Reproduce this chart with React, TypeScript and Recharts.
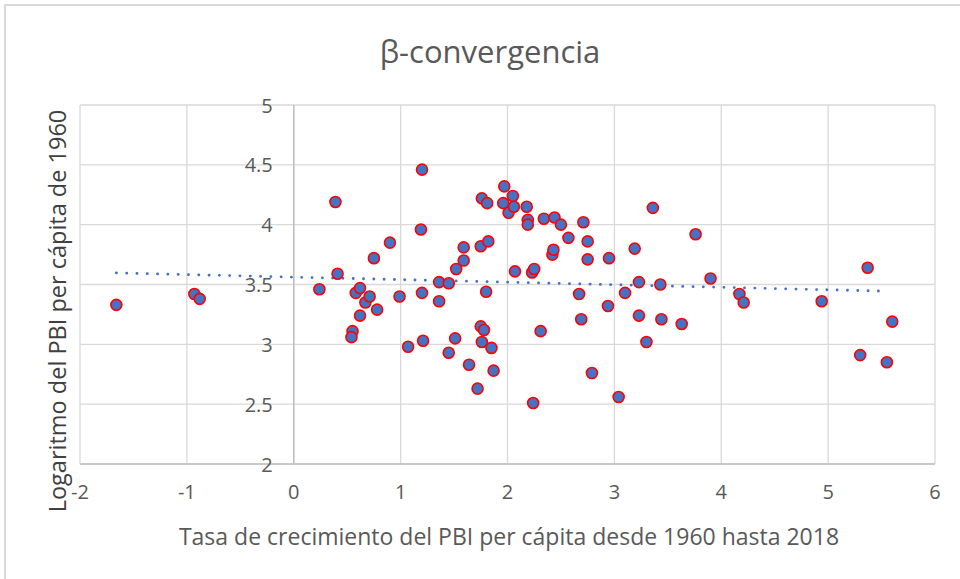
import React from 'react';
import { ScatterChart, Scatter, XAxis, YAxis, CartesianGrid, ReferenceLine } from 'recharts';

// tasa de crecimiento (eje x) y logaritmo del PBI per cápita 1960 (eje y)
const growthRate = [
  -1.66, -0.93, -0.88, 0.24, 0.39, 0.41, 0.55, 0.54, 0.58, 0.62, 0.62, 0.67, 0.71, 0.75, 0.78,
  0.9, 0.99, 1.07, 1.19, 1.2, 1.2, 1.21, 1.36, 1.36, 1.45, 1.45, 1.51, 1.52, 1.59, 1.59,
  1.64, 1.72, 1.75, 1.78, 1.76, 1.75, 1.76, 1.81, 1.8, 1.82, 1.85, 1.87, 1.97, 1.96, 2.05,
  2.01, 2.06, 2.07, 2.18, 2.19, 2.19, 2.23, 2.25, 2.24, 2.31, 2.34, 2.44, 2.42, 2.43, 2.5,
  2.57, 2.67, 2.69, 2.71, 2.75, 2.75, 2.79, 2.94, 2.95, 3.04, 3.1, 3.19, 3.23, 3.23, 3.3,
  3.36, 3.43, 3.44, 3.63, 3.76, 3.9, 4.17, 4.21, 4.94, 5.3, 5.37, 5.55, 5.6,
];
const logGdp1960 = [
  3.33, 3.42, 3.38, 3.46, 4.19, 3.59, 3.11, 3.06, 3.43, 3.47, 3.24, 3.35, 3.4, 3.72, 3.29,
  3.85, 3.4, 2.98, 3.96, 4.46, 3.43, 3.03, 3.52, 3.36, 3.51, 2.93, 3.05, 3.63, 3.81, 3.7,
  2.83, 2.63, 3.15, 3.12, 4.22, 3.82, 3.02, 4.18, 3.44, 3.86, 2.97, 2.78, 4.32, 4.18, 4.24,
  4.1, 4.15, 3.61, 4.15, 4.04, 4.0, 3.6, 3.63, 2.51, 3.11, 4.05, 4.06, 3.75, 3.79, 4.0,
  3.89, 3.42, 3.21, 4.02, 3.86, 3.71, 2.76, 3.32, 3.72, 2.56, 3.43, 3.8, 3.24, 3.52, 3.02,
  4.14, 3.5, 3.21, 3.17, 3.92, 3.55, 3.42, 3.35, 3.36, 2.91, 3.64, 2.85, 3.19,
];
const trendX = [-1.66, 5.55];
const trendY = [3.597, 3.444];
const xTicks = [-2, -1, 0, 1, 2, 3, 4, 5, 6];
const yTicks = [2, 2.5, 3, 3.5, 4, 4.5, 5];

const points = growthRate.map((x, i) => ({ x, y: logGdp1960[i] }));
const trend = trendX.map((x, i) => ({ x, y: trendY[i] }));

const W = 960;
const H = 579;
const LEFT = 80;
const RIGHT = 25;
const PLOT_W = W - LEFT - RIGHT;
const ZERO_PX = LEFT + (PLOT_W * (0 - xTicks[0])) / (xTicks[xTicks.length - 1] - xTicks[0]);
const FONT = '"Open Sans", sans-serif';

const YTick = (props: any) => (
  <text x={ZERO_PX - 21} y={props.y} textAnchor="end" dominantBaseline="central" fill="#595959" fontSize={20} fontFamily={FONT}>
    {props.payload.value}
  </text>
);

const Dot = (props: any) => <circle cx={props.cx} cy={props.cy} r={5.5} fill="#4472C4" stroke="#FF0000" strokeWidth={1.6} />;

export default function App() {
  return <div style={{ position: 'absolute', left: 0, top: 0, width: W, height: H, overflow: 'hidden', background: '#fff' }}>
      <div style={{ position: 'absolute', left: 4, top: 4, width: W, height: H, border: '2px solid #d9d9d9' }} />
      <div style={{ position: 'absolute', left: 0, width: 980, top: 30, textAlign: 'center', fontFamily: FONT, fontSize: 31, color: '#595959' }}>
        β-convergencia
      </div>
      <div style={{ position: 'absolute', left: 0, width: 1018, top: 520, textAlign: 'center', fontFamily: FONT, fontSize: 23, color: '#595959' }}>
        Tasa de crecimiento del PBI per cápita desde 1960 hasta 2018
      </div>
      <div style={{ position: 'absolute', left: 57 - 250, top: 311 - 15, width: 500, height: 30, lineHeight: '30px', textAlign: 'center', transform: 'rotate(-90deg)', fontFamily: FONT, fontSize: 23.5, color: '#404040' }}>
        Logaritmo del PBI per cápita de 1960
      </div>
      <div style={{ position: 'absolute', left: 0, top: 0 }}>
        <ScatterChart width={W} height={H} margin={{ top: 105, right: RIGHT, bottom: 85, left: 0 }}>
          <CartesianGrid stroke="#d9d9d9" strokeWidth={1.3} />
          <XAxis type="number" dataKey="x" domain={[-2, 6]} ticks={xTicks} height={30} tickLine={false}
            axisLine={{ stroke: '#bfbfbf', strokeWidth: 1.5 }} tickMargin={15}
            tick={{ fill: '#595959', fontSize: 20, fontFamily: FONT }} />
          <YAxis type="number" dataKey="y" domain={[2, 5]} ticks={yTicks} width={LEFT} axisLine={false} tickLine={false} tick={<YTick />} />
          <ReferenceLine x={0} stroke="#bfbfbf" strokeWidth={1.5} />
          <Scatter data={trend} isAnimationActive={false} shape={() => <g />}
            line={{ stroke: '#4472C4', strokeWidth: 2.8, strokeDasharray: '0.1 10.2', strokeLinecap: 'round' }} />
          <Scatter data={points} isAnimationActive={false} shape={<Dot />} />
        </ScatterChart>
      </div>
    </div>;
}
